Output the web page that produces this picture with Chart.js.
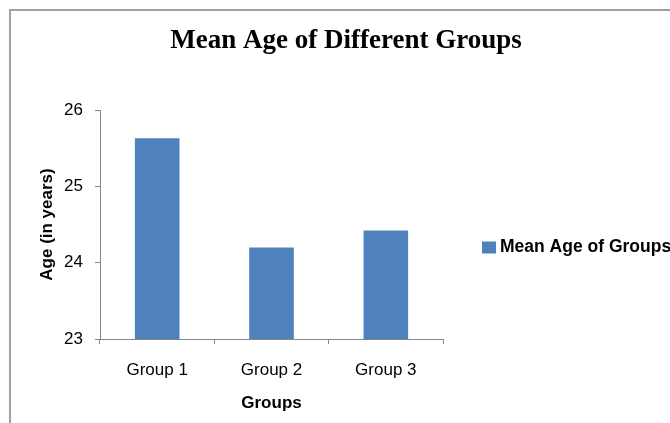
<!DOCTYPE html>
<html>
<head>
<meta charset="utf-8">
<script src="https://cdn.jsdelivr.net/npm/chart.js@4"></script>
<style>
  html, body { margin: 0; padding: 0; background: #ffffff; overflow: hidden; }
  #frame { position: absolute; left: 9px; top: 9px; width: 2000px; height: 2000px;
           border-left: 2px solid #a0a0a0; border-top: 2px solid #a0a0a0; }
  #wrap { position: absolute; left: 0; top: 0; width: 692px; height: 423px; }
</style>
</head>
<body>
<div id="frame"></div>
<div id="wrap"><canvas id="c"></canvas></div>
<script>
const chartTitle = 'Mean Age of Different Groups';
const categories = ['Group 1', 'Group 2', 'Group 3'];
const seriesName = 'Mean Age of Groups';
const meanAges = [25.63, 24.2, 24.42];
const yTicks = [23, 24, 25, 26];
const xAxisTitle = 'Groups';
const yAxisTitle = 'Age (in years)';

const barColor = '#4F81BD';
const axisColor = '#868686';

const legendPlugin = {
  id: 'sideLegend',
  afterDraw(chart) {
    const ctx = chart.ctx;
    const ds = chart.data.datasets[0];
    const x = chart.chartArea.right + 39;
    const y = (chart.chartArea.top + chart.chartArea.bottom) / 2 + 23;
    ctx.save();
    ctx.fillStyle = ds.backgroundColor;
    ctx.fillRect(x, y - 6, 14, 12);
    ctx.fillStyle = '#000000';
    ctx.font = 'bold 17.5px "Liberation Sans"';
    ctx.textBaseline = 'middle';
    ctx.textAlign = 'left';
    ctx.fillText(ds.label, x + 18, y);
    ctx.restore();
  }
};

new Chart(document.getElementById('c'), {
  type: 'bar',
  data: {
    labels: categories,
    datasets: [{
      label: seriesName,
      data: meanAges,
      backgroundColor: barColor,
      borderWidth: 0,
      categoryPercentage: 1.0,
      barPercentage: 0.39
    }]
  },
  options: {
    responsive: true,
    maintainAspectRatio: false,
    animation: false,
    devicePixelRatio: 1,
    layout: { padding: 0 },
    plugins: {
      legend: { display: false },
      tooltip: { enabled: false },
      title: {
        display: true,
        text: chartTitle,
        color: '#000000',
        font: { family: '"Liberation Serif"', size: 27, weight: 'bold' },
        padding: { top: 25, bottom: 52.6 }
      }
    },
    scales: {
      x: {
        type: 'category',
        offset: true,
        grid: { display: true, offset: true, drawOnChartArea: false, drawTicks: true, tickLength: 5, color: axisColor },
        border: { display: true, color: axisColor, width: 1 },
        ticks: { color: '#000000', font: { family: '"Liberation Sans"', size: 17 }, padding: 16, maxRotation: 0 },
        title: { display: true, text: xAxisTitle, color: '#000000',
                 font: { family: '"Liberation Sans"', size: 17, weight: 'bold' }, padding: { top: 0, bottom: 9 } },
        afterFit(scale) { scale.height = 84; }
      },
      y: {
        type: 'linear',
        min: yTicks[0],
        max: yTicks[yTicks.length - 1],
        afterBuildTicks(scale) { scale.ticks = yTicks.map(v => ({ value: v })); },
        grid: { display: true, drawOnChartArea: false, drawTicks: true, tickLength: 5, color: axisColor },
        border: { display: true, color: axisColor, width: 1 },
        ticks: { color: '#000000', font: { family: '"Liberation Sans"', size: 17 }, padding: 12 },
        title: { display: true, text: yAxisTitle, color: '#000000',
                 font: { family: '"Liberation Sans"', size: 17, weight: 'bold' }, padding: { top: 37, bottom: 0 } },
        afterFit(scale) { scale.width = 100; }
      },
      yRight: {
        type: 'linear',
        position: 'right',
        display: true,
        grid: { display: false, drawTicks: false },
        border: { display: false },
        ticks: { display: false },
        afterFit(scale) { scale.width = 249; }
      }
    }
  },
  plugins: [legendPlugin]
});
</script>
</body>
</html>
